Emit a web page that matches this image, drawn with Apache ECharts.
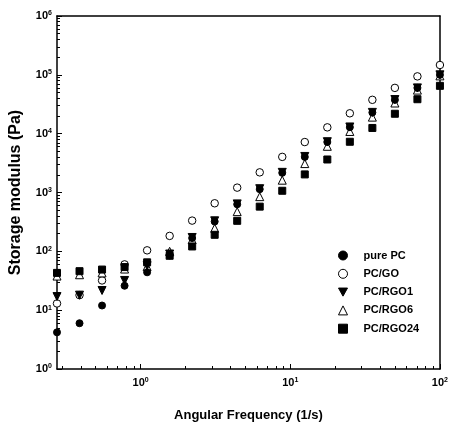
<!DOCTYPE html>
<html>
<head>
<meta charset="utf-8">
<script src="https://cdn.jsdelivr.net/npm/echarts@6/dist/echarts.min.js"></script>
<style>
  html, body { margin: 0; padding: 0; background: #fff; }
  #chart { width: 451px; height: 427px; }
</style>
</head>
<body>
<div id="chart"></div>
<script>
// angular frequency (1/s)
const frequency = [0.2762, 0.3906, 0.5524, 0.7813, 1.105, 1.563, 2.210, 3.125, 4.419,
  6.250, 8.839, 12.50, 17.68, 25.00, 35.36, 50.00, 70.71, 100.0]

// storage modulus (Pa)
const purePC = [4.2, 6.0, 12, 26, 44, 85, 168, 321, 630, 1140, 2160, 4030, 7220, 12900, 22900, 37600, 60000, 100000]
const pcGO = [13, 18, 32, 60, 104, 183, 333, 656, 1210, 2200, 4030, 7200, 12800, 22200, 37600, 60000, 94200, 147000]
const pcRGO1 = [17, 18, 21.6, 32, 57, 90, 172, 330, 640, 1160, 2200, 4100, 7300, 13000, 23000, 38000, 60000, 100000]
const pcRGO6 = [38, 40, 43, 50, 55, 100, 158, 247, 473, 850, 1620, 3100, 6100, 10900, 19100, 33200, 55000, 96000]
const pcRGO24 = [43, 46, 49, 54, 65, 84, 121, 191, 330, 575, 1070, 2030, 3640, 7280, 12500, 21800, 38500, 65000]

// tick positions (data units)
const xMin = 0.2762
const xMax = 100
const yMin = 1
const yMax = 1000000
const xMajorTicks = [1, 10, 100]
const xMinorTicks = [0.3, 0.4, 0.5, 0.6, 0.7, 0.8, 0.9, 2, 3, 4, 5, 6, 7, 8, 9, 20, 30, 40, 50, 60, 70, 80, 90]
const yMajorTicks = [1, 10, 100, 1000, 10000, 100000, 1000000]
const yMinorTicks = []
for (const d of [1, 10, 100, 1000, 10000, 100000]) {
  for (let k = 2; k <= 9; k++) yMinorTicks.push(d * k)
}

const FONT = 'Liberation Sans'
const lg = (v) => Math.log10(v)
const pow10 = (v) => '{b|10}{s|' + Math.round(v) + '}'
const powRich = {
  b: { fontFamily: FONT, fontWeight: 'bold', fontSize: 11, color: '#000' },
  s: { fontFamily: FONT, fontWeight: 'bold', fontSize: 7, color: '#000', verticalAlign: 'top', padding: [0, 0, 5, 0] }
}
const lineStyle = { color: '#000', width: 1.5 }
const tickLine = { color: '#000', width: 1 }

const chart = echarts.init(document.getElementById('chart'))

function scatter(name, data, symbol, size, fill, z) {
  return {
    name: name,
    type: 'scatter',
    xAxisIndex: 0,
    yAxisIndex: 0,
    z: z,
    symbol: symbol,
    symbolSize: size,
    data: frequency.map((f, i) => [f, data[i]]),
    itemStyle: { color: fill, borderColor: '#000', borderWidth: 1, opacity: 1 }
  }
}

// axes drawn in log10 units, used for the frame, ticks and labels
function decorAxis(extra) {
  const axis = Object.assign({
    type: 'value',
    axisTick: { show: false },
    axisLabel: { show: false },
    splitLine: { show: false }
  }, extra)
  axis.axisLine = Object.assign({ show: false, onZero: false }, extra.axisLine || {})
  return axis
}

chart.setOption({
  animation: false,
  grid: { left: 55, right: 9, top: 16, bottom: 56 },
  legend: {
    orient: 'vertical',
    left: 333,
    top: 245,
    itemWidth: 9,
    itemHeight: 9,
    itemGap: 7.3,
    itemStyle: { borderWidth: 1, opacity: 1 },
    textStyle: { fontFamily: FONT, fontWeight: 'bold', fontSize: 11, color: '#000', padding: [0, 0, 0, 11] },
    data: ['pure PC', 'PC/GO', 'PC/RGO1', 'PC/RGO6', 'PC/RGO24']
  },
  xAxis: [
    { type: 'log', logBase: 10, min: xMin, max: xMax, show: false },
    decorAxis({
      min: lg(xMin), max: lg(xMax), position: 'bottom',
      name: 'Angular Frequency (1/s)', nameLocation: 'middle', nameGap: 40,
      nameTextStyle: { fontFamily: FONT, fontWeight: 'bold', fontSize: 13, color: '#000' },
      axisLine: { show: true, lineStyle: lineStyle },
      axisTick: { show: true, inside: true, length: 5, customValues: xMajorTicks.map(lg), lineStyle: tickLine },
      axisLabel: { show: true, customValues: xMajorTicks.map(lg), margin: 8, formatter: pow10, rich: powRich }
    }),
    decorAxis({
      min: lg(xMin), max: lg(xMax), position: 'bottom',
      axisTick: { show: true, inside: true, length: 3, customValues: xMinorTicks.map(lg), lineStyle: tickLine }
    }),
    decorAxis({
      min: lg(xMin), max: lg(xMax), position: 'top',
      axisLine: { show: true, lineStyle: lineStyle }
    })
  ],
  yAxis: [
    { type: 'log', logBase: 10, min: yMin, max: yMax, show: false },
    decorAxis({
      min: lg(yMin), max: lg(yMax), position: 'left',
      name: 'Storage modulus (Pa)', nameLocation: 'middle', nameGap: 33,
      nameTextStyle: { fontFamily: FONT, fontWeight: 'bold', fontSize: 16, color: '#000' },
      axisLine: { show: true, lineStyle: lineStyle },
      axisTick: { show: true, inside: true, length: 5, customValues: yMajorTicks.map(lg), lineStyle: tickLine },
      axisLabel: { show: true, customValues: yMajorTicks.map(lg), margin: 5, formatter: pow10, rich: powRich }
    }),
    decorAxis({
      min: lg(yMin), max: lg(yMax), position: 'left',
      axisTick: { show: true, inside: true, length: 3, customValues: yMinorTicks.map(lg), lineStyle: tickLine }
    }),
    decorAxis({
      min: lg(yMin), max: lg(yMax), position: 'right',
      axisLine: { show: true, lineStyle: lineStyle }
    })
  ],
  series: [
    scatter('pure PC', purePC, 'circle', 7, '#000', 4),
    scatter('PC/GO', pcGO, 'circle', 7.5, '#fff', 2),
    scatter('PC/RGO1', pcRGO1, 'path://M0,0 L10,0 L5,9 Z', 8, '#000', 3),
    scatter('PC/RGO6', pcRGO6, 'triangle', 8, '#fff', 2),
    scatter('PC/RGO24', pcRGO24, 'rect', 7, '#000', 5)
  ]
})
</script>
</body>
</html>
